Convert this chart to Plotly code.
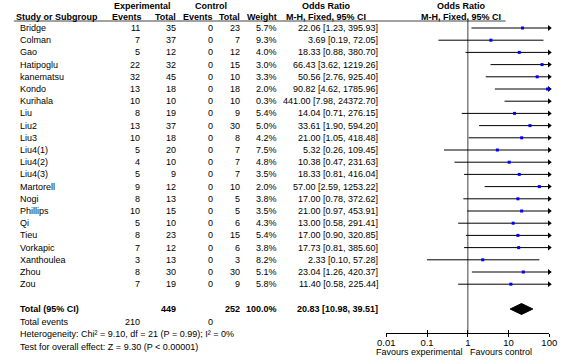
import plotly.graph_objects as go

studies = ["Bridge", "Colman", "Gao", "Hatipoglu", "kanematsu", "Kondo", "Kurihala",
           "Liu", "Liu2", "Liu3", "Liu4(1)", "Liu4(2)", "Liu4(3)", "Martorell", "Nogi",
           "Phillips", "Qi", "Tieu", "Vorkapic", "Xanthoulea", "Zhou", "Zou"]
exp_events = [11, 7, 5, 22, 32, 13, 10, 8, 13, 10, 5, 4, 5, 9, 8, 10, 5, 8, 7, 3, 8, 7]
exp_total = [35, 37, 12, 32, 45, 18, 10, 19, 37, 18, 20, 10, 9, 12, 13, 15, 10, 23, 12, 13, 30, 19]
ctrl_events = [0] * 22
ctrl_total = [23, 7, 12, 15, 10, 18, 10, 9, 30, 8, 7, 7, 7, 10, 5, 5, 6, 15, 6, 3, 30, 9]
weights = [5.7, 9.3, 4.0, 3.0, 3.3, 2.0, 0.3, 5.4, 5.0, 4.2, 7.5, 4.8, 3.5, 2.0, 3.8,
           3.5, 4.3, 5.4, 3.8, 8.2, 5.1, 5.8]
or_val = [22.06, 3.69, 18.33, 66.43, 50.56, 90.82, 441.00, 14.04, 33.61, 21.00, 5.32,
          10.38, 18.33, 57.00, 17.00, 21.00, 13.00, 17.00, 17.73, 2.33, 23.04, 11.40]
ci_low = [1.23, 0.19, 0.88, 3.62, 2.76, 4.62, 7.98, 0.71, 1.90, 1.05, 0.26, 0.47, 0.81,
          2.59, 0.78, 0.97, 0.58, 0.90, 0.81, 0.10, 1.26, 0.58]
ci_high = [395.93, 72.05, 380.70, 1219.26, 925.40, 1785.96, 24372.70, 276.15, 594.20,
           418.48, 109.45, 231.63, 416.04, 1253.22, 372.62, 453.91, 291.41, 320.85,
           385.60, 57.28, 420.37, 225.44]
total_exp, total_ctrl = 449, 252
total_events_exp, total_events_ctrl = 210, 0
total_or, total_lo, total_hi = 20.83, 10.98, 39.51
tick_vals = [0.01, 0.1, 1, 10, 100]
tick_text = ["0.01", "0.1", "1", "10", "100"]

W, H = 566, 360
FONT = "Liberation Sans, Arial, sans-serif"
FS = 9

# layout (pixel rows)
row0, step = 28, 12.2
row_y = [row0 + i * step for i in range(len(studies))]
y_total = 309
y_tev = 321.5
y_het = 334
y_test = 346.5
y_h1, y_h2, y_line = 6, 17, 21
axis_y = 333
x_lo_px, x_hi_px = 389, 557

def px(x):
    return x / W

fig = go.Figure()

# vertical line of no effect
fig.add_trace(go.Scatter(x=[1, 1], y=[y_line, axis_y], mode="lines",
                         line=dict(color="#808080", width=1.5), hoverinfo="skip"))

# CI lines
for i in range(len(studies)):
    hi = min(ci_high[i], 100)
    fig.add_trace(go.Scatter(x=[ci_low[i], hi], y=[row_y[i], row_y[i]], mode="lines",
                             line=dict(color="black", width=1), hoverinfo="skip"))
arr_y = [row_y[i] for i in range(len(studies)) if ci_high[i] > 100]
fig.add_trace(go.Scatter(x=[100] * len(arr_y), y=arr_y, mode="markers",
                         marker=dict(symbol="triangle-right", size=5, color="black"),
                         hoverinfo="skip", cliponaxis=False))
# point estimates
fig.add_trace(go.Scatter(x=or_val, y=row_y, mode="markers",
                         marker=dict(symbol="square", size=3, color="#0000ff"),
                         hoverinfo="skip", cliponaxis=False))
# diamond
dh = 5.5
fig.add_trace(go.Scatter(x=[total_lo, total_or, total_hi, total_or, total_lo],
                         y=[y_total, y_total - dh, y_total, y_total + dh, y_total],
                         mode="lines", fill="toself", fillcolor="black",
                         line=dict(color="black", width=1), hoverinfo="skip"))

ann = []
def txt(x, y, s, anchor="left", bold=False, size=FS):
    if bold:
        s = "<b>" + s + "</b>"
    ann.append(dict(x=px(x), y=y, xref="paper", yref="y", text=s, showarrow=False,
                    xanchor=anchor, yanchor="middle", borderpad=0,
                    font=dict(family=FONT, size=size, color="black")))

# headers
txt(138, y_h1, "Experimental", "center", True)
txt(208, y_h1, "Control", "center", True)
txt(327, y_h1, "Odds Ratio", "center", True)
txt(466, y_h1, "Odds Ratio", "center", True)
txt(6, y_h2, "Study or Subgroup", "left", True)
txt(138, y_h2, "Events", "right", True)
txt(173, y_h2, "Total", "right", True)
txt(211, y_h2, "Events", "right", True)
txt(239, y_h2, "Total", "right", True)
txt(277, y_h2, "Weight", "right", True)
txt(327, y_h2, "M-H, Fixed, 95% CI", "center", True)
txt(466, y_h2, "M-H, Fixed, 95% CI", "center", True)

for i, s in enumerate(studies):
    y = row_y[i]
    txt(10, y, s)
    txt(136, y, str(exp_events[i]), "right")
    txt(173, y, str(exp_total[i]), "right")
    txt(211, y, str(ctrl_events[i]), "right")
    txt(239, y, str(ctrl_total[i]), "right")
    txt(277, y, f"{weights[i]:.1f}%", "right")
    txt(381, y, f"{or_val[i]:.2f} [{ci_low[i]:.2f}, {ci_high[i]:.2f}]", "right")

txt(10, y_total, "Total (95% CI)", "left", True)
txt(173, y_total, str(total_exp), "right", True)
txt(239, y_total, str(total_ctrl), "right", True)
txt(277, y_total, "100.0%", "right", True)
txt(381, y_total, f"{total_or:.2f} [{total_lo:.2f}, {total_hi:.2f}]", "right", True)
txt(10, y_tev, "Total events")
txt(136, y_tev, str(total_events_exp), "right")
txt(211, y_tev, str(total_events_ctrl), "right")
txt(10, y_het, "Heterogeneity: Chi² = 9.10, df = 21 (P = 0.99); I² = 0%")
txt(10, y_test, "Test for overall effect: Z = 9.30 (P < 0.00001)")
txt(423, 352, "Favours experimental", "center")
txt(507, 352, "Favours control", "center")

shapes = [dict(type="line", xref="paper", yref="y", x0=px(5), x1=px(512),
               y0=y_line, y1=y_line, line=dict(color="#444444", width=1))]

axis_pos = 1 - axis_y / H
fig.update_layout(
    width=W, height=H, margin=dict(l=0, r=0, t=0, b=0),
    paper_bgcolor="white", plot_bgcolor="white", showlegend=False,
    annotations=ann, shapes=shapes,
    xaxis=dict(type="log", range=[-2, 2], domain=[px(x_lo_px), px(x_hi_px)],
               anchor="free", position=axis_pos, showgrid=False, zeroline=False,
               showline=True, linecolor="black", linewidth=1,
               ticks="outside", ticklen=3, tickcolor="black", tickwidth=1,
               ticklabelstandoff=-2,
               tickvals=tick_vals, ticktext=tick_text,
               tickfont=dict(family=FONT, size=9.5, color="black")),
    xaxis2=dict(type="log", range=[-2, 2], domain=[px(x_lo_px), px(x_hi_px)],
                anchor="free", position=axis_pos, overlaying="x", side="bottom",
                showgrid=False, zeroline=False, showline=False,
                ticks="inside", ticklen=3, tickcolor="black", tickwidth=1,
                tickvals=tick_vals, showticklabels=False),
    yaxis=dict(range=[H, 0], domain=[0, 1], visible=False, showgrid=False),
)
# dummy trace to make xaxis2 render
fig.add_trace(go.Scatter(x=[1], y=[-100], xaxis="x2", mode="markers",
                         marker=dict(opacity=0), hoverinfo="skip"))

fig.write_html("out.html", config={"displayModeBar": False},
               post_script="document.body.style.margin='0';document.body.style.overflow='hidden';")
